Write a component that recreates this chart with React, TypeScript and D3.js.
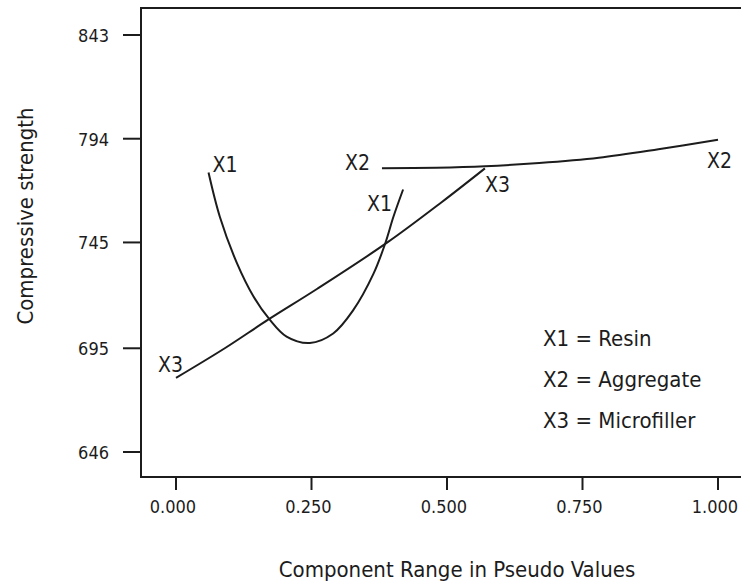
import { curveCatmullRom, line, scaleLinear } from "d3";

type Pt = { x: number; y: number };

// values
const yTicks = [646, 695, 745, 794, 843];
const xTicks = [0, 0.25, 0.5, 0.75, 1.0];
const xTickLabels = ["0.000", "0.250", "0.500", "0.750", "1.000"];

const resinX = [0.06, 0.081, 0.112, 0.143, 0.173, 0.204, 0.247, 0.29, 0.327, 0.364, 0.386, 0.401, 0.419];
const resinY = [778, 757, 735.5, 719.5, 708.5, 700.5, 697.5, 702, 713, 730, 744.5, 757, 770];

const aggregateX = [0.38, 0.48, 0.57, 0.67, 0.78, 0.89, 1.0];
const aggregateY = [780, 780.3, 781, 782.5, 785, 789, 793.5];

const microX = [0, 0.09, 0.17, 0.26, 0.39, 0.49, 0.57];
const microY = [681, 695, 708.5, 723, 745, 764, 780];

const legendLabels = ["X1 = Resin", "X2 = Aggregate", "X3 = Microfiller"];

const zip = (xs: number[], ys: number[]): Pt[] => xs.map((x, i) => ({ x, y: ys[i] }));

export default function App() {
  const width = 741;
  const height = 586;
  const frame = { left: 141, top: 8, bottom: 477 };
  const font = "'DejaVu Sans Condensed', 'Liberation Sans', sans-serif";
  const ink = "#1c1c1c";

  const x = scaleLinear().domain([0, 1]).range([176, 718]);
  const y = scaleLinear().domain([646, 843]).range([452, 35]);

  const lineGen = line<Pt>()
    .x((d) => x(d.x))
    .y((d) => y(d.y))
    .curve(curveCatmullRom.alpha(0.5));

  const resin = zip(resinX, resinY);
  const aggregate = zip(aggregateX, aggregateY);
  const micro = zip(microX, microY);

  // curve end labels, anchored to the series end points
  const first = (s: Pt[]) => s[0];
  const last = (s: Pt[]) => s[s.length - 1];
  const curveLabels = [
    { text: "X1", px: x(first(resin).x) + 4, py: y(first(resin).y) - 1 },
    { text: "X1", px: x(last(resin).x) - 36, py: y(last(resin).y) + 21 },
    { text: "X2", px: x(first(aggregate).x) - 37, py: y(first(aggregate).y) + 2 },
    { text: "X2", px: x(last(aggregate).x) - 11, py: y(last(aggregate).y) + 28 },
    { text: "X3", px: x(first(micro).x) - 18, py: y(first(micro).y) - 6 },
    { text: "X3", px: x(last(micro).x) + 0, py: y(last(micro).y) + 24 },
  ];

  return (
    <svg
      width={width}
      height={height}
      viewBox={`0 0 ${width} ${height}`}
      style={{ position: "absolute", left: 0, top: 0, background: "#fff" }}
      fontFamily={font}
    >
      <rect width={width} height={height} fill="#fff" />
      {/* frame (right side is cropped in the source) */}
      <path
        d={`M${width},${frame.top}H${frame.left}V${frame.bottom}H${width}`}
        fill="none"
        stroke={ink}
        strokeWidth={2}
      />

      {/* y axis */}
      {yTicks.map((t) => (
        <g key={`y-${t}`}>
          <line x1={123} x2={frame.left} y1={y(t)} y2={y(t)} stroke={ink} strokeWidth={2} />
          <text x={109} y={y(t) + 7} textAnchor="end" fontSize={18} fill={ink}>
            {t}
          </text>
        </g>
      ))}

      {/* x axis */}
      {xTicks.map((t, i) => (
        <g key={`x-${t}`}>
          <line x1={x(t)} x2={x(t)} y1={frame.bottom} y2={frame.bottom + 13} stroke={ink} strokeWidth={2} />
          <text x={x(t) - 3} y={513} textAnchor="middle" fontSize={18} fill={ink}>
            {xTickLabels[i]}
          </text>
        </g>
      ))}

      <text x={457} y={577} textAnchor="middle" fontSize={22} fill={ink}>
        Component Range in Pseudo Values
      </text>
      <text
        transform="translate(33,216) rotate(-90)"
        textAnchor="middle"
        fontSize={22}
        fill={ink}
      >
        Compressive strength
      </text>

      {/* series */}
      <path d={lineGen(micro) ?? ""} fill="none" stroke={ink} strokeWidth={2} />
      <path d={lineGen(aggregate) ?? ""} fill="none" stroke={ink} strokeWidth={2} />
      <path d={lineGen(resin) ?? ""} fill="none" stroke={ink} strokeWidth={2} />

      {curveLabels.map((l, i) => (
        <text key={`cl-${i}`} x={l.px} y={l.py} fontSize={21} fill={ink}>
          {l.text}
        </text>
      ))}

      {/* legend */}
      {legendLabels.map((l, i) => (
        <text key={l} x={543} y={346 + i * 41} fontSize={22} fill={ink}>
          {l}
        </text>
      ))}
    </svg>
  );
}
